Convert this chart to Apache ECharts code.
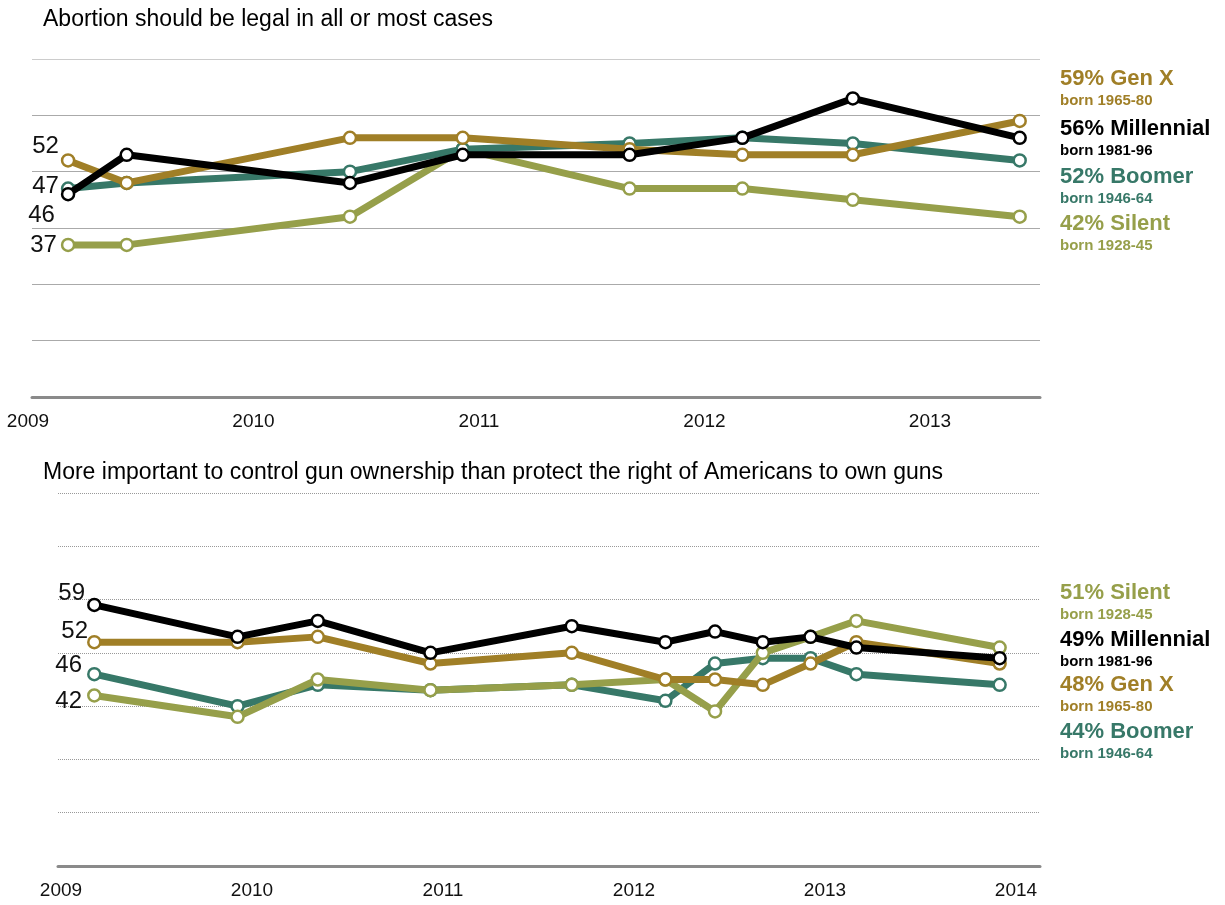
<!DOCTYPE html>
<html>
<head>
<meta charset="utf-8">
<script src="https://cdn.jsdelivr.net/npm/echarts/dist/echarts.min.js"></script>
<style>
  html, body { margin: 0; padding: 0; background: #fff; }
  #chart { width: 1225px; height: 905px; }
</style>
</head>
<body>
<div id="chart"></div>
<script>
// generations, in the order used for the series
const generations = ["Gen X", "Millennial", "Boomer", "Silent"];
const bornYears = ["1965-80", "1981-96", "1946-64", "1928-45"];
const colors = ["#a07f27", "#000000", "#377868", "#969f4a"];

// abortion: survey dates (fractional year) and % by generation
const abortionDates = [2009.16, 2009.42, 2010.41, 2010.91, 2011.65, 2012.15, 2012.64, 2013.38];
const abortionGenX = [52, 48, 56, 56, 54, 53, 53, 59];
const abortionMillennial = [46, 53, 48, 53, 53, 56, 63, 56];
const abortionBoomer = [47, 48, 50, 54, 55, 56, 55, 52];
const abortionSilent = [37, 37, 42, 54, 47, 47, 45, 42];

// gun control
const gunDates = [2009.19, 2009.94, 2010.36, 2010.95, 2011.69, 2012.18, 2012.44, 2012.69, 2012.94, 2013.18, 2013.93];
const gunGenX = [52, 52, 53, 48, 50, 45, 45, 44, 48, 52, 48];
const gunMillennial = [59, 53, 56, 50, 55, 52, 54, 52, 53, 51, 49];
const gunBoomer = [46, 40, 44, 43, 44, 41, 48, 49, 49, 46, 44];
const gunSilent = [42, 38, 45, 43, 44, 45, 39, 50, 53, 56, 51];

const FONT = '"Liberation Sans", Arial, sans-serif';

function lineSeries(gen, dates, values, axis, labelOffset, z) {
  const color = colors[gen];
  return {
    name: generations[gen],
    type: "line",
    xAxisIndex: axis,
    yAxisIndex: axis,
    z: z,
    symbol: "circle",
    symbolSize: 12,
    showAllSymbol: true,
    silent: true,
    lineStyle: { color: color, width: 7 },
    itemStyle: { color: "#fff", borderColor: color, borderWidth: 2.5 },
    emphasis: { disabled: true },
    data: dates.map((d, i) => {
      if (i !== 0) return [d, values[i]];
      // start value written left of the first point
      return {
        value: [d, values[i]],
        label: {
          show: true,
          position: "left",
          distance: 8,
          offset: labelOffset,
          formatter: (p) => p.value[1],
          fontFamily: FONT,
          fontSize: 24,
          color: "#111",
        },
      };
    }),
  };
}

function endLabels(order, lastValues, tops) {
  const items = [];
  order.forEach((gen, k) => {
    items.push({
      type: "text",
      left: 1060,
      top: tops[k],
      style: {
        text: lastValues[gen] + "% " + generations[gen],
        fill: colors[gen],
        font: "bold 22px " + FONT,
      },
    });
    items.push({
      type: "text",
      left: 1060,
      top: tops[k] + 25,
      style: {
        text: "born " + bornYears[gen],
        fill: colors[gen],
        font: "bold 15px " + FONT,
      },
    });
  });
  return items;
}

const abortionLast = [abortionGenX, abortionMillennial, abortionBoomer, abortionSilent].map((a) => a[a.length - 1]);
const gunLast = [gunGenX, gunMillennial, gunBoomer, gunSilent].map((a) => a[a.length - 1]);

const yearLabel = {
  fontFamily: FONT,
  fontSize: 19,
  color: "#111",
  margin: 15,
  formatter: (v) => (Number.isInteger(v) ? String(v) : ""),
};

const chart = echarts.init(document.getElementById("chart"));
chart.setOption({
  animation: false,
  title: [
    {
      text: "Abortion should be legal in all or most cases",
      left: 43, top: 8, padding: 0,
      textStyle: { fontFamily: FONT, fontSize: 23, fontWeight: "normal", color: "#000" },
    },
    {
      text: "More important to control gun ownership than protect the right of Americans to own guns",
      left: 43, top: 461, padding: 0,
      textStyle: { fontFamily: FONT, fontSize: 23, fontWeight: "normal", color: "#000" },
    },
  ],
  grid: [
    { left: 32, width: 1008, top: 59, height: 338 },
    { left: 58, width: 982, top: 493, height: 373 },
  ],
  xAxis: [
    {
      gridIndex: 0, type: "value", min: 2009, max: 2009 + 1008 / 225.5, interval: 1,
      axisLine: { show: true, lineStyle: { color: "#8a8a8a", width: 3 } },
      axisTick: { show: false }, splitLine: { show: false },
      axisLabel: Object.assign({}, yearLabel, { padding: [0, 8, 0, 0] }),
    },
    {
      gridIndex: 1, type: "value", min: 2009, max: 2009 + 982 / 191, interval: 1,
      axisLine: { show: true, lineStyle: { color: "#8a8a8a", width: 3 } },
      axisTick: { show: false }, splitLine: { show: false },
      axisLabel: Object.assign({}, yearLabel, { padding: [0, 0, 0, 6] }),
    },
  ],
  yAxis: [
    {
      gridIndex: 0, type: "value", min: 10, max: 70, interval: 10,
      axisLine: { show: false }, axisTick: { show: false }, axisLabel: { show: false },
      splitLine: { lineStyle: { color: ["#aaa", "#aaa", "#aaa", "#aaa", "#aaa", "#aaa", "#ccc"], width: 1 } },
    },
    {
      gridIndex: 1, type: "value", min: 10, max: 80, interval: 10,
      axisLine: { show: false }, axisTick: { show: false }, axisLabel: { show: false },
      splitLine: { lineStyle: { color: "#999", width: 1, type: "dotted" } },
    },
  ],
  series: [
    lineSeries(3, abortionDates, abortionSilent, 0, [4, 0], 2),
    lineSeries(2, abortionDates, abortionBoomer, 0, [6, -2], 3),
    lineSeries(0, abortionDates, abortionGenX, 0, [6, -14], 4),
    lineSeries(1, abortionDates, abortionMillennial, 0, [2, 21], 5),
    lineSeries(2, gunDates, gunBoomer, 1, [3, -9], 2),
    lineSeries(3, gunDates, gunSilent, 1, [3, 6], 3),
    lineSeries(0, gunDates, gunGenX, 1, [9, -11], 4),
    lineSeries(1, gunDates, gunMillennial, 1, [6, -12], 5),
  ],
  graphic: [
    ...endLabels([0, 1, 2, 3], abortionLast, [68, 118, 166, 213]),
    ...endLabels([3, 1, 0, 2], gunLast, [582, 629, 674, 721]),
  ],
});
</script>
</body>
</html>
